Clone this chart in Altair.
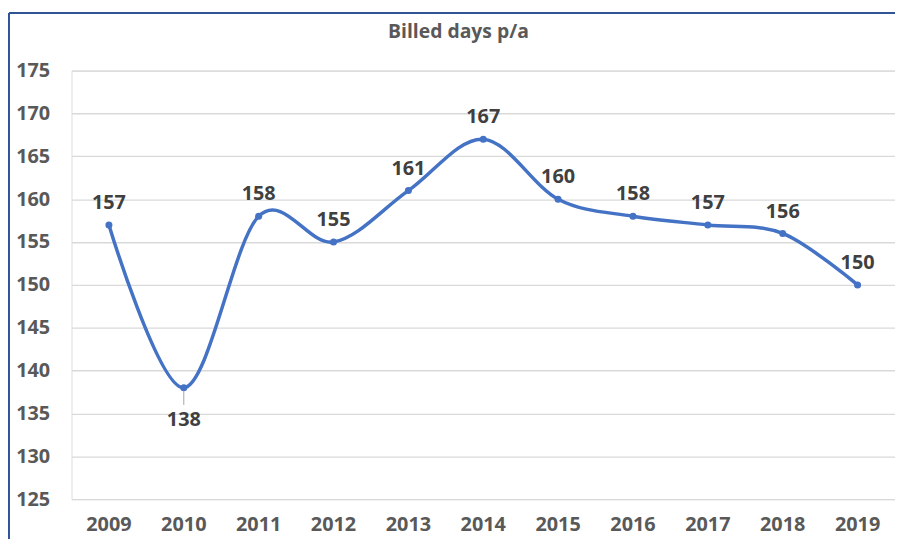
import altair as alt
import pandas as pd

years = ["2009", "2010", "2011", "2012", "2013", "2014", "2015", "2016", "2017", "2018", "2019"]
billed_days = [157, 138, 158, 155, 161, 167, 160, 158, 157, 156, 150]
below_label_years = ["2010"]
y_ticks = [125, 130, 135, 140, 145, 150, 155, 160, 165, 170, 175]
title_text = "Billed days p/a"

df = pd.DataFrame({"year": years, "days": billed_days})
df["below"] = df["year"].isin(below_label_years)

FONT = "Open Sans"
W, H = 830, 432

x_enc = alt.X("year:N", sort=years, title=None,
              scale=alt.Scale(paddingInner=0, paddingOuter=0),
              axis=alt.Axis(labelAngle=0, domain=False, ticks=False, labelPadding=16,
                            labelFont=FONT, labelFontSize=20, labelFontWeight="bold",
                            labelColor="#595959", grid=False))
y_enc = alt.Y("days:Q", title=None,
              scale=alt.Scale(domain=[125, 175], nice=False, zero=False),
              axis=alt.Axis(values=y_ticks, domain=False, ticks=False, labelPadding=22,
                            labelFont=FONT, labelFontSize=20, labelFontWeight="bold",
                            labelColor="#595959", grid=True, gridColor="#d9d9d9",
                            gridWidth=1.3))

base = alt.Chart(df)

line = base.mark_line(color="#4472C4", strokeWidth=3.5, interpolate="cardinal").encode(x=x_enc, y=y_enc)
pts = base.mark_point(filled=True, color="#4472C4", size=50, opacity=1).encode(x=x_enc, y=y_enc)

lbl_above = base.transform_filter("!datum.below").mark_text(
    font=FONT, fontSize=20, fontWeight="bold", color="#404040", dy=-16, baseline="alphabetic"
).encode(x=x_enc, y=y_enc, text="days:Q")

lbl_below = base.transform_filter("datum.below").mark_text(
    font=FONT, fontSize=20, fontWeight="bold", color="#404040", dy=39, baseline="alphabetic"
).encode(x=x_enc, y=y_enc, text="days:Q")

leader = base.transform_filter("datum.below").transform_calculate(
    y_top="datum.days - 0.35", y_bot="datum.days - 2.0"
).mark_rule(color="#a6a6a6", strokeWidth=1).encode(
    x=x_enc, y=alt.Y("y_top:Q"), y2="y_bot:Q")

one = pd.DataFrame({"t": [title_text]})
title_mark = alt.Chart(one).mark_text(
    font=FONT, fontSize=19.5, fontWeight="bold", color="#595959", baseline="alphabetic", align="center"
).encode(x=alt.value(390), y=alt.value(-33), text="t:N")
border_top = alt.Chart(one).mark_rule(color="#2F5597", strokeWidth=2).encode(
    x=alt.value(-63), x2=alt.value(W + 5), y=alt.value(-58))
border_left = alt.Chart(one).mark_rule(color="#2F5597", strokeWidth=2).encode(
    x=alt.value(-63), y=alt.value(-58), y2=alt.value(H + 40))

chart = alt.layer(line, pts, leader, lbl_above, lbl_below, title_mark, border_top, border_left).properties(
    width=W, height=H,
    autosize=alt.AutoSizeParams(type="none"),
    padding={"left": 64, "top": 61, "right": 0, "bottom": 38},
).configure_view(stroke=None).configure(background="white")

chart.save("out.html", embed_options={"renderer": "svg", "actions": False})
